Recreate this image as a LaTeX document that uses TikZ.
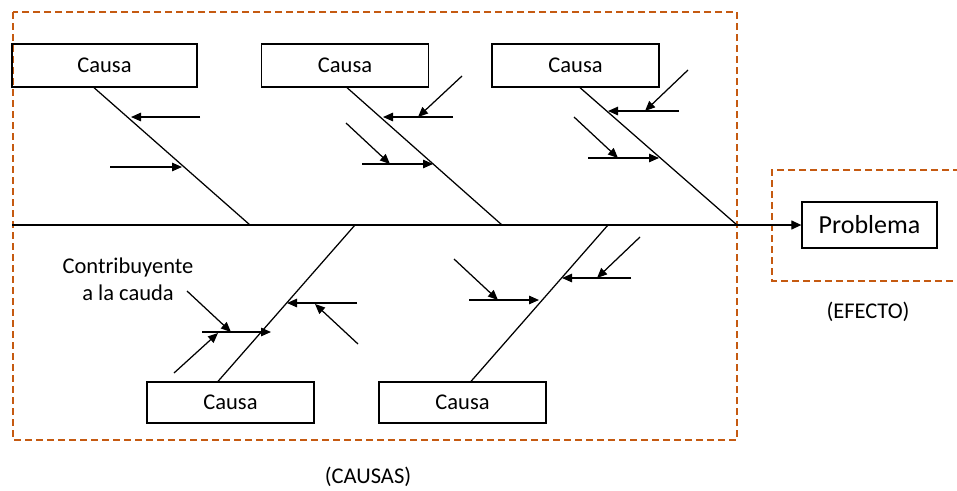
\documentclass[tikz,border=0pt]{standalone}
\usepackage{fontspec}
\setmainfont{Carlito}
\usetikzlibrary{arrows.meta}
\definecolor{frameorange}{RGB}{197,90,17}
\begin{document}
\begin{tikzpicture}[x=1pt,y=-1pt,
  causebox/.style={draw, line width=1.3pt, minimum width=#1, minimum height=42pt,
    inner sep=0pt, font=\fontsize{22.5}{27}\selectfont},
  bone/.style={line width=1.25pt},
  sub/.style={line width=1.25pt, -{Triangle[length=10pt,width=8.5pt]}},
  region/.style={draw=frameorange, line width=1.4pt, dash pattern=on 7pt off 4pt},
  caption/.style={font=\fontsize{22.5}{27}\selectfont, align=center}]
\useasboundingbox (0,0) rectangle (957,490);

% dashed regions: causes and effect
\draw[region] (13,12) rectangle (737,440);
\draw[region] (960,170) -- (772,170) -- (772,281) -- (960,281);

% cause boxes
\node[causebox=185pt, minimum height=43pt] (c1) at (104.5,65.5) {Causa};
\node[causebox=167pt, minimum height=43pt] (c2) at (345,65.5) {Causa};
\node[causebox=167pt, minimum height=43pt] (c3) at (575.5,65.5) {Causa};
\node[causebox=167pt, minimum height=41pt] (c4) at (230.5,402.5) {Causa};
\node[causebox=167pt, minimum height=41pt] (c5) at (462.5,402.5) {Causa};

% effect box
\node[draw, line width=1.3pt, minimum width=135pt, minimum height=46pt, inner sep=0pt,
  font=\fontsize{26}{31}\selectfont] (prob) at (869.5,225) {Problema};

% spine
\coordinate (tail) at (12,225);
\draw[bone, -{Triangle[length=10pt,width=9pt]}] (tail) -- (prob.west);

% bones to the spine
\coordinate (j1) at (250,225);
\coordinate (j2) at (502,225);
\coordinate (j3) at (737,225);
\coordinate (j4) at (355,225);
\coordinate (j5) at (608,225);
\draw[bone] ([xshift=-10.5pt]c1.south) -- (j1);
\draw[bone] ([xshift=2pt]c2.south) -- (j2);
\draw[bone] ([xshift=4.5pt]c3.south) -- (j3);
\draw[bone] ([xshift=-12.5pt]c4.north) -- (j4);
\draw[bone] ([xshift=8.5pt]c5.north) -- (j5);

% sub-causes, first bone
\draw[sub] (200,117) -- (131,117);
\draw[sub] (110,167) -- (182,167);

% sub-causes, second bone
\draw[sub] (453,117) -- (383,117);
\draw[sub] (462,76) -- (418,117);
\draw[sub] (362,164) -- (433,164);
\draw[sub] (346,123) -- (390,164);

% sub-causes, third bone
\draw[sub] (679,111) -- (608,111);
\draw[sub] (688,70) -- (645,111);
\draw[sub] (588,158) -- (659,158);
\draw[sub] (574,117) -- (618,158);

% sub-causes, fourth bone
\draw[sub] (357,303) -- (287,303);
\draw[sub] (358,344) -- (315,304);
\draw[sub] (202,332) -- (271,332);
\draw[sub] (187,291) -- (231,332);
\draw[sub] (174,373) -- (218,333);

% sub-causes, fifth bone
\draw[sub] (631,278) -- (562,278);
\draw[sub] (640,237) -- (597,278);
\draw[sub] (469,300) -- (539,300);
\draw[sub] (454,259) -- (498,300);

% labels
\node[caption] (contrib) at (128,279) {Contribuyente\\a la cauda};
\node[caption] (efecto) at (868,312) {(EFECTO)};
\node[caption] (causas) at (368,477) {(CAUSAS)};
\end{tikzpicture}
\end{document}
